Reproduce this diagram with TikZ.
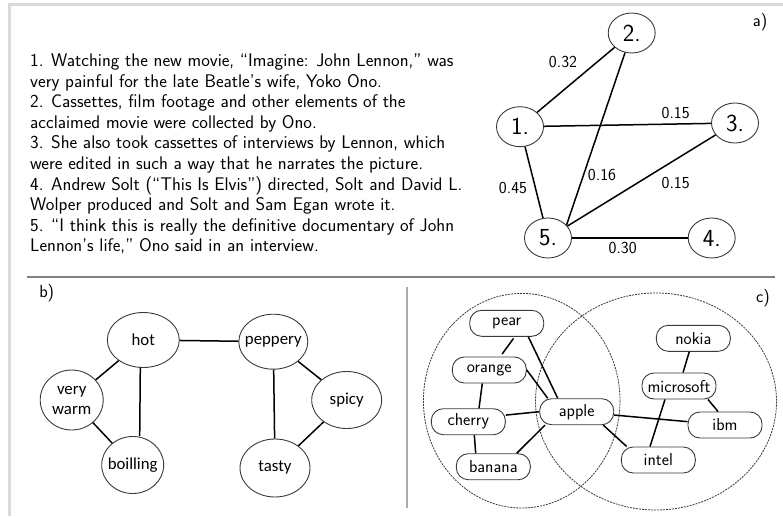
\documentclass[tikz,border=0pt]{standalone}
\usepackage{fontspec}
\newfontfamily\calibfont{Carlito}
\usepackage{xcolor}
\usepackage{tikz}
\usetikzlibrary{positioning,shapes.geometric}
\definecolor{framegray}{HTML}{DADADA}
\definecolor{rulegray}{HTML}{7F7F7F}
\definecolor{splitgray}{HTML}{ABABAB}
\definecolor{ringgray}{HTML}{3A3A3A}
\tikzset{
  sent/.style={anchor=base west, inner sep=0pt, font=\sffamily\fontsize{18.3}{20.5}\selectfont},
  snode/.style={ellipse, draw=ringgray, line width=0.9pt, minimum width=47pt, minimum height=40pt, inner sep=0pt, font=\sffamily\fontsize{24.5}{26}\selectfont},
  wlabel/.style={inner sep=0pt, font=\sffamily\fontsize{16.8}{19}\selectfont},
  tag/.style={inner sep=0pt, font=\sffamily\fontsize{17.5}{20}\selectfont},
  word/.style={ellipse, draw=ringgray, line width=0.9pt, minimum width=70pt, minimum height=57pt, inner xsep=-10pt, inner ysep=-6pt, align=center, font=\calibfont\fontsize{16.8}{20}\selectfont},
  term/.style={rectangle, rounded corners=12pt, draw=ringgray, line width=0.9pt, minimum width=74pt, minimum height=26pt, inner sep=0pt, font=\sffamily\fontsize{17.3}{19}\selectfont},
  link/.style={line width=1.5pt},
  venn/.style={draw=ringgray, dash pattern=on 2pt off 1pt, line width=0.8pt},
}

\begin{document}
\begin{tikzpicture}[x=1pt,y=-1pt]
\useasboundingbox (0,0) rectangle (783,516);
\draw[framegray, line width=3pt] (9,516) -- (9,5) -- (783,5);
\draw[rulegray, line width=2pt] (27,276.7) -- (775,276.7);
\draw[splitgray, line width=2pt] (406.5,287) -- (406.5,508);

% a) sentences and their graph
\foreach \txt [count=\i] in {
  {1. Watching the new movie, “Imagine: John Lennon,” was},
  {very painful for the late Beatle’s wife, Yoko Ono.},
  {2. Cassettes, film footage and other elements of the},
  {acclaimed movie were collected by Ono.},
  {3. She also took cassettes of interviews by Lennon, which},
  {were edited in such a way that he narrates the picture.},
  {4. Andrew Solt (“This Is Elvis”) directed, Solt and David L.},
  {Wolper produced and Solt and Sam Egan wrote it.},
  {5. “I think this is really the definitive documentary of John},
  {Lennon’s life,” Ono said in an interview.}} {
  \node[sent] (line\i) at (30,{66.7+20.56*(\i-1)}) {\txt};
}
\node[tag] (taga) at (760,22) {a)};
\node[snode] (s1) at (520,126.7) {1.};
\node[snode] (s2) at (631.7,33) {2.};
\node[snode] (s3) at (735,123) {3.};
\node[snode] (s4) at (711.7,238) {4.};
\node[snode] (s5) at (548,238) {5.};
\draw[link] (s1) -- (s2);
\draw[link] (s1) -- (s3);
\draw[link] (s1) -- (s5);
\draw[link] (s2) -- (s5.35);
\draw[link] (s3) -- (s5);
\draw[link] (s5) -- (s4);
\node[wlabel] (w12) at (563,62) {0.32};
\node[wlabel] (w13) at (675.7,112.7) {0.15};
\node[wlabel] (w25) at (602,175) {0.16};
\node[wlabel] (w15) at (513,188) {0.45};
\node[wlabel] (w35) at (675.7,183) {0.15};
\node[wlabel] (w54) at (622.7,248) {0.30};

% b) word graph
\node[tag] (tagb) at (46.7,293) {b)};
\node[word, minimum width=72pt, minimum height=55pt] (hot) at (143.3,340) {hot};
\node[word, minimum width=69pt, minimum height=55pt] (peppery) at (273.3,341.7) {peppery};
\node[word, minimum width=63pt, minimum height=60pt] (verywarm) at (71.7,400) {very\\warm};
\node[word] (spicy) at (346.7,400) {spicy};
\node[word, minimum width=62pt] (boilling) at (132.7,465) {boilling};
\node[word, minimum height=58pt] (tasty) at (275,468) {tasty};
\draw[link] (hot) -- (peppery);
\draw[link] (hot) -- (verywarm);
\draw[link] (verywarm) -- (boilling);
\draw[link] ([xshift=-3pt]hot.south) -- ([xshift=7pt]boilling.north);
\draw[link] (peppery) -- (tasty);
\draw[link] (peppery) -- (spicy);
\draw[link] (spicy) -- (tasty);

% c) two overlapping clusters
\node[tag] (tagc) at (763,298) {c)};
\draw[venn] (521.7,400.7) ellipse [x radius=98.3, y radius=107.3];
\draw[venn] (656,401.5) ellipse [x radius=120.5, y radius=108.5];
\node[term] (pear) at (506.7,323.3) {pear};
\node[term] (orange) at (489.3,370) {orange};
\node[term] (cherry) at (468.3,421.7) {cherry};
\node[term] (banana) at (493.3,466.7) {banana};
\node[term] (apple) at (576.7,411.7) {apple};
\node[term] (nokia) at (693.3,338.3) {nokia};
\node[term] (microsoft) at (679,386) {microsoft};
\node[term] (ibm) at (725,425) {ibm};
\node[term] (intel) at (658.3,460) {intel};
\draw[link, shorten <=2pt, shorten >=3pt] ([xshift=8pt]pear.south) -- ([xshift=11pt]orange.north);
\draw[link] ([xshift=21.6pt]pear.south) -- ([xshift=-19pt]apple.north);
\draw[link] (orange.east) -- ([xshift=-29pt]apple.north);
\draw[link] ([xshift=-7pt]orange.south) -- ([xshift=10.7pt]cherry.north);
\draw[link] (cherry.10) -- (apple.west);
\draw[link] ([xshift=6pt]cherry.south) -- ([xshift=-17.6pt]banana.north);
\draw[link] ([xshift=23.4pt]banana.north) -- ([xshift=-31.7pt]apple.south);
\draw[link] (apple) -- (ibm);
\draw[link] ([xshift=26.6pt]apple.south) -- ([xshift=-31.6pt]intel.north);
\draw[link] (nokia) -- (microsoft);
\draw[link] ([xshift=29pt]microsoft.south) -- ([xshift=-7pt]ibm.north);
\draw[link] ([xshift=-14pt]microsoft.south) -- ([xshift=-8.3pt]intel.north);
\end{tikzpicture}
\end{document}
